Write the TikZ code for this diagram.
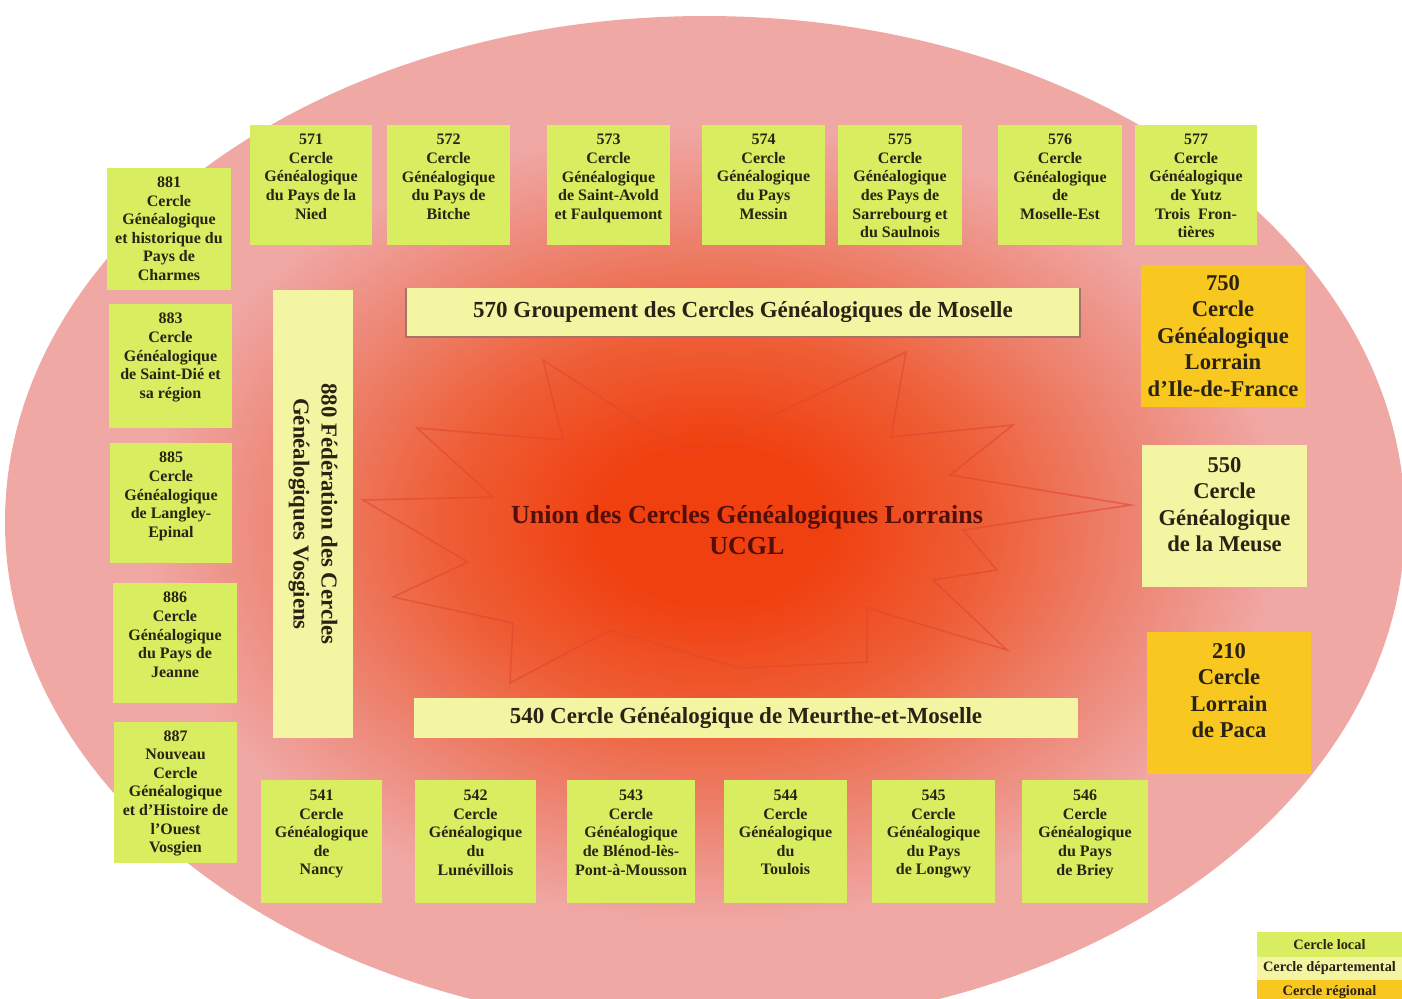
\documentclass[tikz,border=0pt]{standalone}
\usepackage{fontspec}
\setmainfont{Liberation Serif}
\definecolor{pinkc}{RGB}{240,168,165}
\definecolor{glowc}{RGB}{240,64,16}
\definecolor{glowm}{RGB}{238,95,55}
\definecolor{glowo}{RGB}{237,135,118}
\definecolor{localc}{RGB}{216,238,96}
\definecolor{deptc}{RGB}{244,245,162}
\definecolor{regc}{RGB}{248,200,32}
\definecolor{txtc}{RGB}{42,34,20}
\definecolor{ucglc}{RGB}{82,14,8}
\definecolor{starc}{RGB}{226,70,48}
\definecolor{shadc}{RGB}{165,115,105}
\pgfdeclareradialshading{ucglglow}{\pgfpoint{0bp}{0bp}}{color(0bp)=(glowc); color(5bp)=(glowc); color(12bp)=(glowm); color(19bp)=(glowo); color(25bp)=(pinkc); color(50bp)=(pinkc)}
\newcommand{\cbt}[4]{\begin{minipage}[c][#2][t]{#1}\centering\vspace*{#3}#4\end{minipage}}
\tikzset{
  cbox/.style={draw=none, inner sep=0pt, outer sep=0pt, text=txtc, font=\fontsize{8}{9.3}\selectfont\bfseries},
  bigbox/.style={cbox, font=\fontsize{11.3}{13.25}\selectfont\bfseries},
  local/.style={cbox, fill=localc},
  dept/.style={cbox, fill=deptc},
  regio/.style={cbox, fill=regc},
  bar/.style={dept, font=\fontsize{11.5}{13}\selectfont\bfseries},
  legtext/.style={font=\fontsize{7.2}{8}\selectfont\bfseries},
  starline/.style={draw=starc, line width=0.8pt, opacity=0.6, line join=miter}
}
\begin{document}
\begin{tikzpicture}[x=0.5pt,y=-0.5pt]
\clip (0,0) rectangle (1402,998);
\fill[white] (0,0) rectangle (1402,998);
% background ellipse and glow
\fill[pinkc] (705,522) ellipse [x radius=350pt, y radius=253pt];
\shade[shading=ucglglow] (712,525) ellipse [x radius=285pt, y radius=200pt];
% star outline
\draw[starline] (543,360) -- (690,455) -- (906,352) -- (891,437) -- (1013,425) -- (950,475) -- (1131,505) -- (963,530) -- (997,570) -- (933,580) -- (1007,650) -- (890,615) -- (867,607) -- (867,662) -- (740,668) -- (610,630) -- (510,683) -- (513,623) -- (393,597) -- (468,562) -- (363,500) -- (493,497) -- (417,428) -- (563,440) -- cycle;

% top row (Moselle)
\node[local] (c571) at (311,185) {\cbt{61pt}{60pt}{4.6pt}{571\\Cercle\\Généalogique\\du Pays de la\\Nied}};
\node[local] (c572) at (448.5,185) {\cbt{61.5pt}{60pt}{4.6pt}{572\\Cercle\\Généalogique\\du Pays de\\Bitche}};
\node[local] (c573) at (608.5,185) {\cbt{61.5pt}{60pt}{4.6pt}{573\\Cercle\\Généalogique\\de Saint-Avold\\et Faulquemont}};
\node[local] (c574) at (763.5,185) {\cbt{61.5pt}{60pt}{4.6pt}{574\\Cercle\\Généalogique\\du Pays\\Messin}};
\node[local] (c575) at (900,185) {\cbt{62pt}{60pt}{4.6pt}{575\\Cercle\\Généalogique\\des Pays de\\Sarrebourg et\\du Saulnois}};
\node[local] (c576) at (1060,185) {\cbt{62pt}{60pt}{4.6pt}{576\\Cercle\\Généalogique\\de\\Moselle-Est}};
\node[local] (c577) at (1196,185) {\cbt{61pt}{60pt}{4.6pt}{577\\Cercle\\Généalogique\\de Yutz\\Trois~ Fron-\\tières}};

% left column (Vosges)
\node[local] (c881) at (169,229) {\cbt{62pt}{61pt}{4.4pt}{881\\Cercle\\Généalogique\\et historique du\\Pays de\\Charmes}};
\node[local] (c883) at (170.5,366) {\cbt{61.5pt}{62pt}{4.6pt}{883\\Cercle\\Généalogique\\de Saint-Dié et\\sa région}};
\node[local] (c885) at (171,503) {\cbt{61pt}{60pt}{4.6pt}{885\\Cercle\\Généalogique\\de Langley-\\Epinal}};
\node[local] (c886) at (175,643) {\cbt{62pt}{60pt}{4.6pt}{886\\Cercle\\Généalogique\\du Pays de\\Jeanne}};
\node[local] (c887) at (175.5,792.5) {\cbt{61.5pt}{70.5pt}{4.2pt}{887\\Nouveau\\Cercle\\Généalogique\\et d’Histoire de\\l’Ouest\\Vosgien}};

% bottom row (Meurthe-et-Moselle)
\node[local] (c541) at (321.5,841.5) {\cbt{60.5pt}{61.5pt}{5pt}{541\\Cercle\\Généalogique\\de\\Nancy}};
\node[local] (c542) at (475.5,841.5) {\cbt{60.5pt}{61.5pt}{5pt}{542\\Cercle\\Généalogique\\du\\Lunévillois}};
\node[local] (c543) at (631,841.5) {\cbt{64pt}{61.5pt}{5pt}{543\\Cercle\\Généalogique\\de Blénod-lès-\\Pont-à-Mousson}};
\node[local] (c544) at (785.5,841.5) {\cbt{61.5pt}{61.5pt}{5pt}{544\\Cercle\\Généalogique\\du\\Toulois}};
\node[local] (c545) at (933.5,841.5) {\cbt{61.5pt}{61.5pt}{5pt}{545\\Cercle\\Généalogique\\du Pays\\de Longwy}};
\node[local] (c546) at (1085,841.5) {\cbt{63pt}{61.5pt}{5pt}{546\\Cercle\\Généalogique\\du Pays\\de Briey}};

% right column
\node[regio, bigbox] (c750) at (1223,336) {\cbt{82pt}{71pt}{5.2pt}{750\\Cercle\\Généalogique\\Lorrain\\d’Ile-de-France}};
\node[dept, bigbox] (c550) at (1224.5,516) {\cbt{82.5pt}{71pt}{6pt}{550\\Cercle\\Généalogique\\de la Meuse}};
\node[regio, bigbox] (c210) at (1229,703) {\cbt{82pt}{71pt}{5.6pt}{210\\Cercle\\Lorrain\\de Paca}};

% departmental bars
\node[bar, minimum width=337pt, minimum height=24.5pt] (g570) at (743,312.5) {570 Groupement des Cercles Généalogiques de Moselle};
\draw[shadc, line width=0.8pt] (g570.north west) -- (g570.south west) -- (g570.south east) -- (g570.north east);
\node[bar, minimum width=332pt, minimum height=20pt] (g540) at (746,718) {540 Cercle Généalogique de Meurthe-et-Moselle};
\node[dept, minimum width=224pt, minimum height=40pt, rotate=-90, align=center, font=\fontsize{11.4}{14}\selectfont\bfseries] (f880) at (313,514) {880 Fédération des Cercles\\Généalogiques Vosgiens};

% centre
\node[font=\fontsize{13}{15.5}\selectfont\bfseries, text=ucglc, align=center] (ucgl) at (747,530) {Union des Cercles Généalogiques Lorrains\\UCGL};

% legend
\node[local, legtext, minimum width=72.5pt, minimum height=12.5pt] (lg1) at (1329.5,944.5) {Cercle local};
\node[dept, legtext, minimum width=72.5pt, minimum height=11.5pt] (lg2) at (1329.5,968.5) {Cercle départemental};
\node[regio, legtext, minimum width=72.5pt, minimum height=12pt, anchor=north] (lg3) at (1329.5,980) {\raisebox{-5pt}{Cercle régional}};
\end{tikzpicture}
\end{document}
